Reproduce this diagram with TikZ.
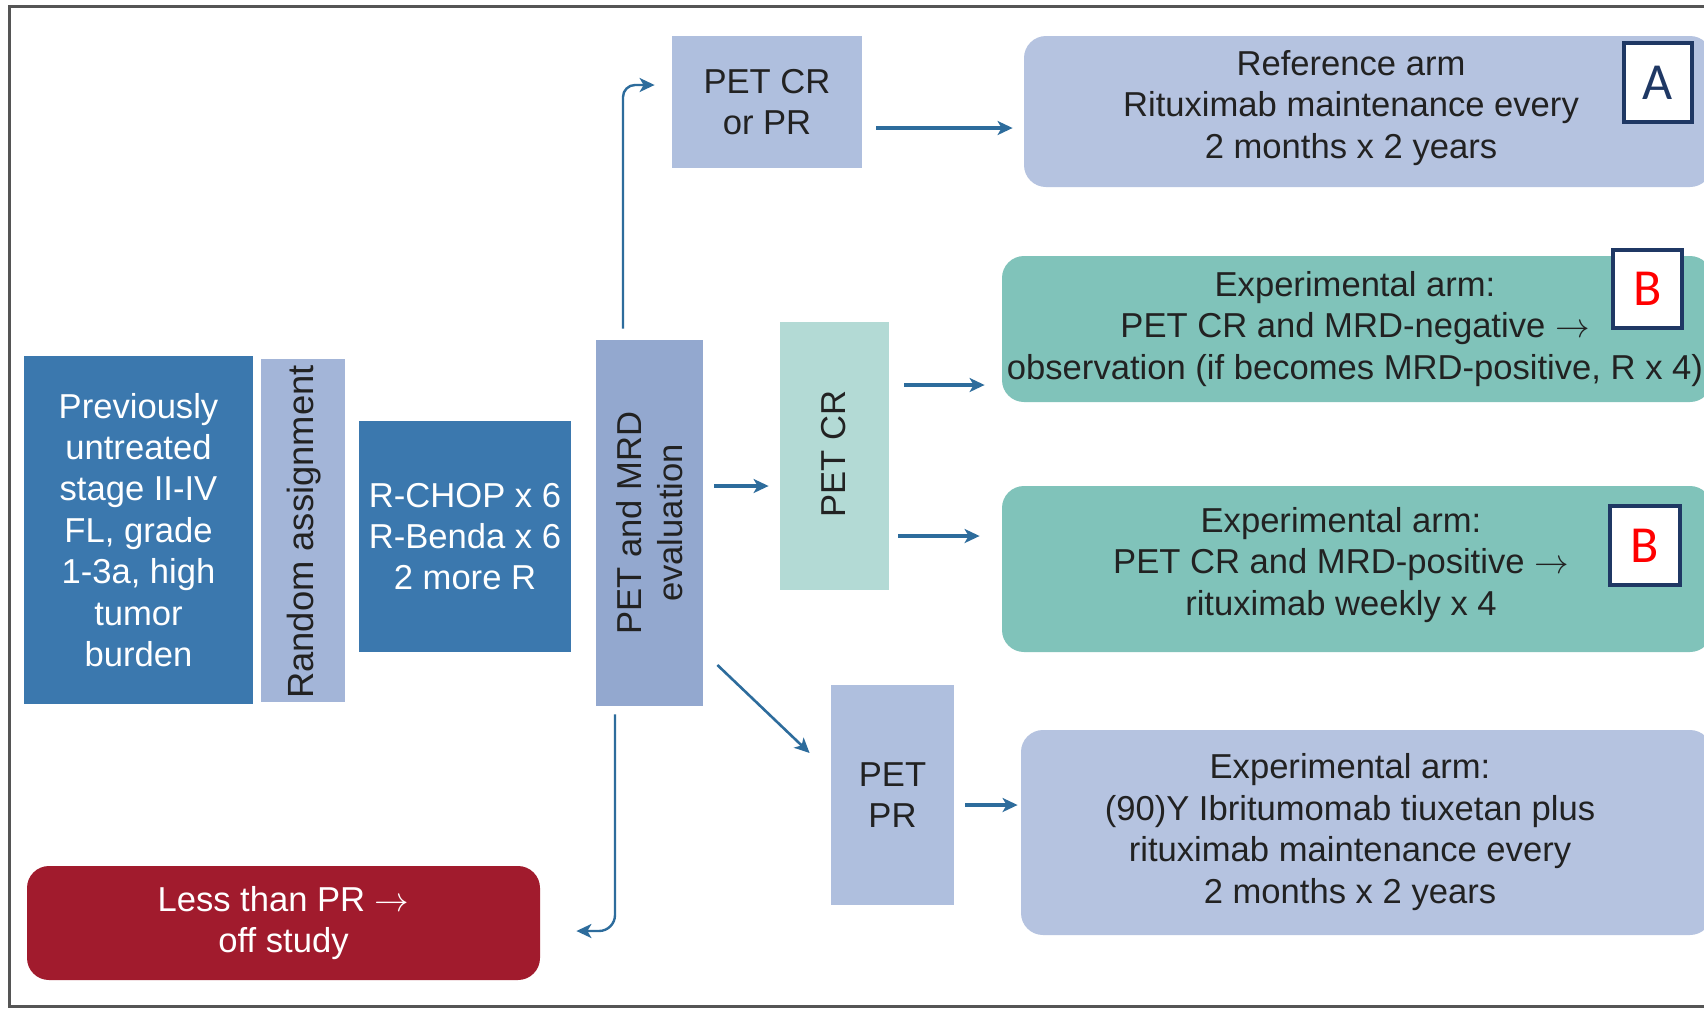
\documentclass[tikz,border=0pt]{standalone}
\usepackage{fontspec}
\usepackage{graphicx}
\setmainfont{Liberation Sans}
\newfontfamily\lblfont{Carlito}
\usetikzlibrary{arrows.meta,calc}
\definecolor{dblue}{HTML}{3B78AE}
\definecolor{randc}{HTML}{A3B5D8}
\definecolor{mrdc}{HTML}{93A8CF}
\definecolor{lblue}{HTML}{AFBFDE}
\definecolor{refc}{HTML}{B5C3E0}
\definecolor{lteal}{HTML}{B3DAD5}
\definecolor{teal}{HTML}{80C3BA}
\definecolor{redc}{HTML}{A11B2D}
\definecolor{arrowc}{HTML}{2D6C9C}
\definecolor{txtdark}{HTML}{222222}
\definecolor{navy}{HTML}{1F3864}
\definecolor{framec}{HTML}{555555}
\begin{document}
\begin{tikzpicture}[x=0.5pt,y=-0.5pt,
  box/.style={inner sep=0pt, align=center, font=\fontsize{17.3}{20.7}\selectfont, text=txtdark},
  sq/.style={box, rectangle},
  rbox/.style={box, rectangle, rounded corners=11pt},
  txt/.style={inner sep=0pt, align=center, font=\fontsize{17.3}{20.7}\selectfont, text=txtdark},
  lbl/.style={draw=navy, line width=1.6pt, fill=white, inner sep=0pt, font=\lblfont\fontsize{26}{28}\selectfont},
  arr/.style={draw=arrowc, line width=1.6pt, -{Stealth[length=7.5pt,width=7pt,inset=2pt]}}
]
\clip (0,0) rectangle (1704,1009);
\fill[white] (0,0) rectangle (1704,1009);
% frame
\draw[framec, line width=1.5pt] (1710,6) -- (9,6) -- (9,1006) -- (1710,1006);

% left column
\node[sq, fill=dblue, text=white, minimum width=114.5pt, minimum height=174pt] (prev) at (138.5,530)
  {Previously\\untreated\\stage II-IV\\FL, grade\\1-3a, high\\tumor\\burden};
\node[sq, fill=randc, minimum width=42pt, minimum height=171.5pt] (rand) at (303,530.5) {};
\node[txt, rotate=90, font=\fontsize{18.2}{21}\selectfont] (randtxt) at (304,532) {Random assignment};
\node[sq, fill=dblue, text=white, minimum width=106pt, minimum height=115.5pt] (rchop) at (465,536.5)
  {R-CHOP x 6\\R-Benda x 6\\2 more R};
\node[sq, fill=mrdc, minimum width=53.5pt, minimum height=183pt] (petmrd) at (649.5,523) {};
\node[txt, rotate=90] (petmrdtxt) at (649.5,523) {PET and MRD\\evaluation};

% middle column
\node[sq, fill=lblue, minimum width=95pt, minimum height=66pt] (petcrpr) at (767,102) {PET CR\\or PR};
\node[sq, fill=lteal, minimum width=54.5pt, minimum height=134pt] (petcr) at (834.5,456) {};
\node[txt, rotate=90] (petcrtxt) at (833.5,454) {PET CR};
\node[sq, fill=lblue, minimum width=61.5pt, minimum height=110pt] (petpr) at (892.5,795) {PET\\PR};

% right column
\node[rbox, fill=refc, minimum width=344pt, minimum height=75.5pt] (refarm) at (1368,111.5) {};
\node[txt] (reftxt) at (1351,108) {Reference arm\\Rituximab maintenance every\\2 months x 2 years};
\node[rbox, fill=teal, minimum width=355pt, minimum height=73pt] (bone) at (1357,329) {};
\node[txt] (bonetxt) at (1355,329) {Experimental arm:\\PET CR and MRD-negative $\rightarrow$\\observation (if becomes MRD-positive, R x 4)};
\node[rbox, fill=teal, minimum width=355pt, minimum height=83pt] (btwo) at (1357,569) {};
\node[txt] (btwotxt) at (1341,565) {Experimental arm:\\PET CR and MRD-positive $\rightarrow$\\rituximab weekly x 4};
\node[rbox, fill=refc, minimum width=345.5pt, minimum height=102.5pt] (expthree) at (1366.5,832.5) {};
\node[txt] (expthreetxt) at (1350,832) {Experimental arm:\\(90)Y Ibritumomab tiuxetan plus\\rituximab maintenance every\\2 months x 2 years};

% off study
\node[rbox, fill=redc, text=white, minimum width=256.5pt, minimum height=57pt] (red) at (283.5,923)
  {Less than PR $\rightarrow$\\off study};

% labels
\node[lbl, text=navy, minimum width=34pt, minimum height=39.5pt] (labA) at (1658,82.5) {A};
\node[lbl, text=red, minimum width=34.5pt, minimum height=39pt] (labB1) at (1647.5,289) {B};
\node[lbl, text=red, minimum width=35pt, minimum height=39.5pt] (labB2) at (1645,545.5) {B};

% connectors
\draw[arr, line width=1.2pt, rounded corners=6pt] ($(petmrd.north)+(-26.5,-11)$) |- ($(petcrpr.west)+(-17,-17)$);
\draw[arr] ($(petcrpr.east)+(14,26)$) -- ($(refarm.west)+(-11,16.5)$);
\draw[arr] ($(petmrd.east)+(11,-37)$) -- ($(petcr.west)+(-11,30)$);
\draw[arr] ($(petcr.east)+(15,-71)$) -- ($(bone.west)+(-17,56)$);
\draw[arr] ($(petcr.east)+(9,80)$) -- ($(btwo.west)+(-22,-33)$);
\draw[arr, line width=1.3pt] ($(petmrd.east)+(14,142)$) -- ($(petpr.west)+(-21,-42)$);
\draw[arr] ($(petpr.east)+(11,10)$) -- ($(expthree.west)+(-3,-27.5)$);
\draw[arr, line width=1.2pt, rounded corners=8pt] ($(petmrd.south)+(-34.5,8)$) |- ($(red.east)+(36,8)$);
\end{tikzpicture}
\end{document}
